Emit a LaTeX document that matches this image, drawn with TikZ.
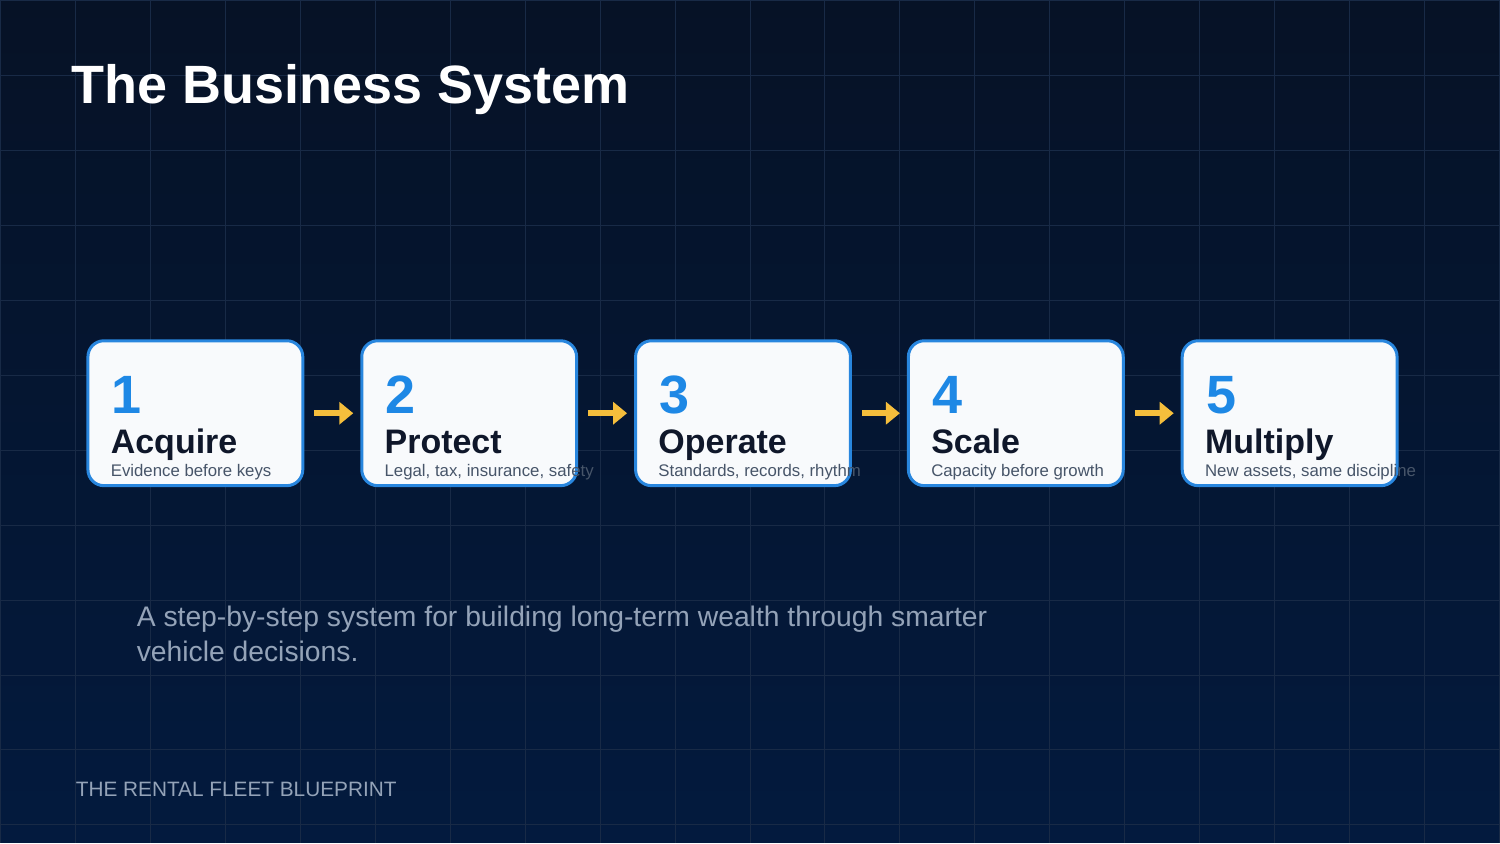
\documentclass[tikz,border=0pt]{standalone}
\usepackage{fontspec}
\setmainfont{Liberation Sans}
\usetikzlibrary{arrows.meta}
\definecolor{navytop}{RGB}{6,18,38}
\definecolor{navybot}{RGB}{3,26,62}
\definecolor{gridline}{RGB}{24,42,70}
\definecolor{stepblue}{RGB}{40,134,222}
\definecolor{numblue}{RGB}{30,136,229}
\definecolor{boxfill}{RGB}{248,250,252}
\definecolor{inkdark}{RGB}{15,23,42}
\definecolor{inkgray}{RGB}{71,85,105}
\definecolor{mutedtext}{RGB}{148,163,184}
\definecolor{arrowgold}{RGB}{245,190,60}

\begin{document}
\begin{tikzpicture}[x=0.5pt,y=-0.5pt,
  stepbox/.style={draw=stepblue, line width=1.5pt, fill=boxfill, rounded corners=8pt, minimum width=107.5pt, minimum height=72.5pt, inner sep=0pt},
  numtext/.style={anchor=base west, inner sep=0pt, text=numblue, font=\bfseries\fontsize{27}{30}\selectfont},
  nametext/.style={anchor=base west, inner sep=0pt, text=inkdark, font=\bfseries\fontsize{17}{20}\selectfont},
  notetext/.style={anchor=base west, inner sep=0pt, text=inkgray, font=\fontsize{8.4}{10}\selectfont},
  flow/.style={draw=arrowgold, line width=3pt, -{Triangle[length=7pt,width=11pt]}, shorten <=5pt, shorten >=3.5pt}]

    % background and grid
    \shade[top color=navytop, bottom color=navybot] (0,0) rectangle (1500,843);
    \foreach \gx in {0,75,...,1500}
        \draw[gridline, line width=0.5pt] (\gx,0) -- (\gx,843);
    \foreach \gy in {0,75,...,825}
        \draw[gridline, line width=0.5pt] (0,\gy) -- (1500,\gy);

    \node[anchor=base west, inner sep=0pt, text=white, font=\bfseries\fontsize{27}{32}\selectfont] (title) at (71,103) {The Business System};

    % the five steps
    \node[stepbox] (step1) at (195,413) {};
    \node[numtext] (num1) at (111,413) {1};
    \node[nametext] (name1) at (110,453) {Acquire};
    \node[notetext] (note1) at (110,476) {Evidence before keys};

    \node[stepbox] (step2) at (469,413) {};
    \node[numtext] (num2) at (385,413) {2};
    \node[nametext] (name2) at (384,453) {Protect};
    \node[notetext] (note2) at (384,476) {Legal, tax, insurance, safety};

    \node[stepbox] (step3) at (743,413) {};
    \node[numtext] (num3) at (659,413) {3};
    \node[nametext] (name3) at (658,453) {Operate};
    \node[notetext] (note3) at (658,476) {Standards, records, rhythm};

    \node[stepbox] (step4) at (1016,413) {};
    \node[numtext] (num4) at (932,413) {4};
    \node[nametext] (name4) at (931,453) {Scale};
    \node[notetext] (note4) at (931,476) {Capacity before growth};

    \node[stepbox] (step5) at (1290,413) {};
    \node[numtext] (num5) at (1206,413) {5};
    \node[nametext] (name5) at (1205,453) {Multiply};
    \node[notetext] (note5) at (1205,476) {New assets, same discipline};

    \draw[flow] (step1) -- (step2);
    \draw[flow] (step2) -- (step3);
    \draw[flow] (step3) -- (step4);
    \draw[flow] (step4) -- (step5);

    \node[anchor=base west, inner sep=0pt, align=left, text=mutedtext, font=\fontsize{14.15}{17.5}\selectfont] (tagline) at (136,661) {A step-by-step system for building long-term wealth through smarter\\vehicle decisions.};

    \node[anchor=base west, inner sep=0pt, text=mutedtext, font=\fontsize{10.4}{13}\selectfont] (footer) at (75,797) {THE RENTAL FLEET BLUEPRINT};

\end{tikzpicture}
\end{document}
